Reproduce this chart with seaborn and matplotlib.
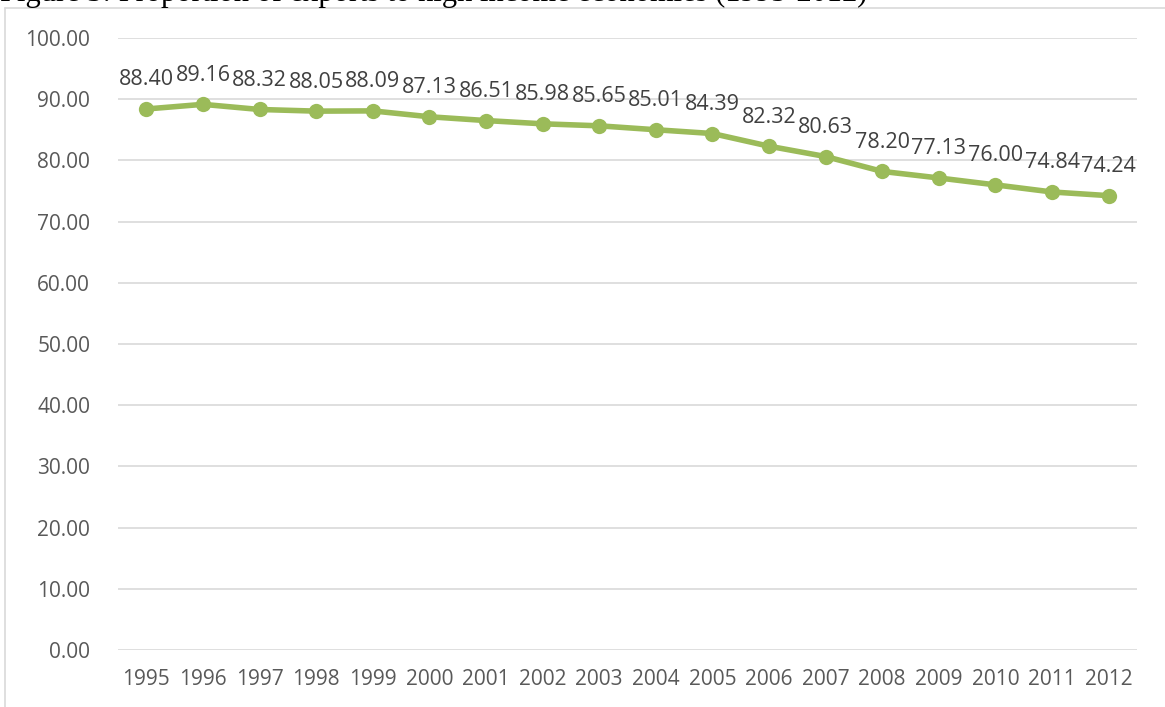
import numpy as np
import seaborn as sns
import matplotlib.pyplot as plt
from matplotlib.lines import Line2D

years = ["1995", "1996", "1997", "1998", "1999", "2000", "2001", "2002", "2003",
         "2004", "2005", "2006", "2007", "2008", "2009", "2010", "2011", "2012"]
share = [88.40, 89.16, 88.32, 88.05, 88.09, 87.13, 86.51, 85.98, 85.65,
         85.01, 84.39, 82.32, 80.63, 78.20, 77.13, 76.00, 74.84, 74.24]
y_ticks = [0, 10, 20, 30, 40, 50, 60, 70, 80, 90, 100]
title = "Figure 3: Proportion of exports to high income economies (1995-2012)"

sns.set_theme(style="white")
plt.rcParams["font.family"] = ["Open Sans", "DejaVu Sans"]

fig = plt.figure(figsize=(11.65, 7.07), dpi=100)
W, H = 1165, 707
ax = fig.add_axes([118 / W, 1 - 650 / H, (1137 - 118) / W, (650 - 38) / H])

pos = np.arange(len(years))
sns.lineplot(x=pos, y=share, ax=ax, color="#9BBB59", linewidth=4,
             marker="o", markersize=11, markeredgewidth=0)

for x, v in zip(pos, share):
    ax.annotate(f"{v:.2f}", (x, v), xytext=(0, 17), textcoords="offset points",
                ha="center", va="baseline", fontsize=15.5, color="#404040")

ax.set_xlim(-0.5, len(years) - 0.5)
ax.set_ylim(0, 100)
ax.set_yticks(y_ticks)
ax.set_yticklabels([f"{t:.2f}" for t in y_ticks])
ax.set_xticks(pos)
ax.set_xticklabels(years)
ax.tick_params(axis="both", length=0, labelsize=15, labelcolor="#595959")
ax.tick_params(axis="y", pad=20)
ax.tick_params(axis="x", pad=14)
ax.yaxis.grid(True, color="#D9D9D9", linewidth=1.2)
for s in ax.spines.values():
    s.set_visible(False)

# chart border (cropped on right and bottom)
fig.add_artist(Line2D([5 / W, 5 / W], [0, 1 - 8 / H], color="#D9D9D9", lw=1.2))
fig.add_artist(Line2D([5 / W, 1], [1 - 8 / H, 1 - 8 / H], color="#D9D9D9", lw=1.2))

# caption above the chart, mostly cut off by the image edge
fig.text(0, 1 - 1 / H, title, fontsize=22, family="Liberation Serif",
         color="black", va="baseline", ha="left")

fig.savefig("out.png", dpi=100)
